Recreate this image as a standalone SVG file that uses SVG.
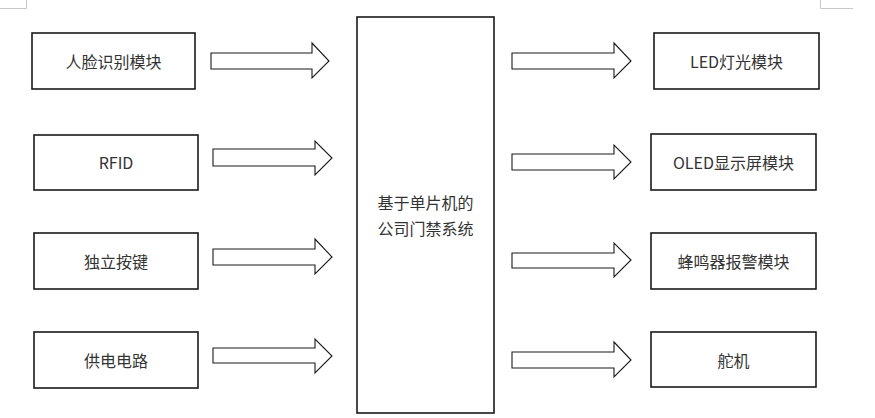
<svg xmlns="http://www.w3.org/2000/svg" width="875" height="418" viewBox="0 0 875 418">
<style>
.box{fill:#fff;stroke:#1a1a1a;stroke-width:1.6}
.arr{fill:#fff;stroke:#1a1a1a;stroke-width:1.1;stroke-linejoin:miter}
.t{font-family:"Noto Sans CJK SC","Noto Sans",sans-serif;font-size:16px;fill:#333;text-anchor:middle;dominant-baseline:central}
.mark{stroke:#c8c8c8;stroke-width:1;fill:none}
</style>
<rect width="875" height="418" fill="#fff"/>
<path class="mark" d="M0 8.5H26.5V0"/>
<path class="mark" d="M820.5 0V8.5H853"/>
<g id="face"><rect class="box" x="32" y="33" width="163" height="56"/><text class="t" x="113.5" y="61">人脸识别模块</text></g>
<g id="rfid"><rect class="box" x="34" y="135" width="164" height="55"/><text class="t" x="116" y="162">RFID</text></g>
<g id="key"><rect class="box" x="34" y="233" width="164" height="56"/><text class="t" x="116" y="261">独立按键</text></g>
<g id="power"><rect class="box" x="34" y="332" width="164" height="56"/><text class="t" x="116" y="360">供电电路</text></g>
<g id="mcu"><rect class="box" x="357" y="17" width="137" height="396"/><text class="t" x="425.5" y="202">基于单片机的</text><text class="t" x="425.5" y="228">公司门禁系统</text></g>
<g id="led"><rect class="box" x="654" y="33" width="165" height="56"/><text class="t" x="736.5" y="61">LED灯光模块</text></g>
<g id="oled"><rect class="box" x="651" y="134" width="165" height="56"/><text class="t" x="733.5" y="162">OLED显示屏模块</text></g>
<g id="buzzer"><rect class="box" x="651" y="233" width="165" height="56"/><text class="t" x="733.5" y="261">蜂鸣器报警模块</text></g>
<g id="servo"><rect class="box" x="651" y="332" width="165" height="55"/><text class="t" x="733.5" y="360">舵机</text></g>
<g id="connectors">
<path class="arr" d="M211 53H312V43L329 61L312 78V69H211Z"/>
<path class="arr" d="M213 149H315V141L332 158L315 175V166H213Z"/>
<path class="arr" d="M213 249H315V239L332 257L315 274V265H213Z"/>
<path class="arr" d="M213 348H315V339L332 356L315 373V363H213Z"/>
<path class="arr" d="M512 53H614V43L631 61L614 78V69H512Z"/>
<path class="arr" d="M512 154H614V145L631 162L614 179V170H512Z"/>
<path class="arr" d="M512 253H614V243L631 260L614 277V268H512Z"/>
<path class="arr" d="M512 352H614V342L631 360L614 377V368H512Z"/>
</g>
</svg>
